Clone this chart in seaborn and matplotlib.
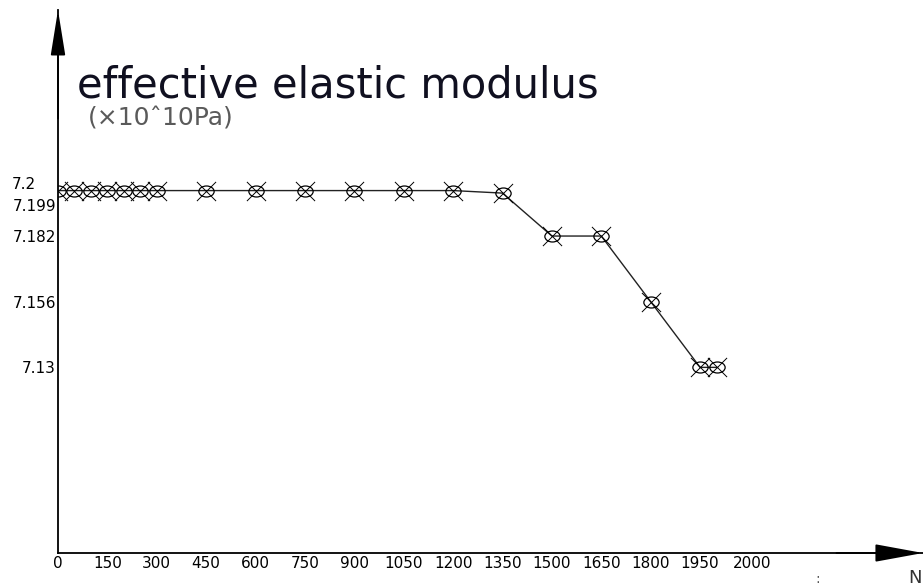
import matplotlib
matplotlib.use("Agg")
import matplotlib.pyplot as plt
import matplotlib.path as mpath
import matplotlib.transforms as mtransforms
import pandas as pd
import seaborn as sns

# data
n_values = [0, 50, 100, 150, 200, 250, 300, 450, 600, 750, 900, 1050,
            1200, 1350, 1500, 1650, 1800, 1950, 2000]
modulus = [7.2, 7.2, 7.2, 7.2, 7.2, 7.2, 7.2, 7.2, 7.2, 7.2, 7.2, 7.2,
           7.2, 7.199, 7.182, 7.182, 7.156, 7.13, 7.13]

x_ticks = [0, 150, 300, 450, 600, 750, 900, 1050, 1200, 1350, 1500,
           1650, 1800, 1950, 2000]
x_tick_labels = [str(v) for v in x_ticks]
y_ticks = [7.2, 7.199, 7.182, 7.156, 7.13]
y_tick_labels = ["7.2", "7.199", "7.182", "7.156", "7.13"]

df = pd.DataFrame({"N": n_values, "E": modulus})

sns.set_style("white")
plt.rcParams["font.family"] = ["DejaVu Sans"]

fig = plt.figure(figsize=(9.23, 5.87), dpi=100)
ax = fig.add_axes([58 / 923, 34 / 587, 1 - 58 / 923, (553 - 10) / 587])

# flattened circle marker
ellipse = mpath.Path.unit_circle().transformed(mtransforms.Affine2D().scale(1, 0.72))

sns.lineplot(data=df, x="N", y="E", ax=ax, color="#222222", linewidth=1,
             marker=ellipse, markersize=11, markerfacecolor="none",
             markeredgecolor="black", markeredgewidth=0.9)
sns.scatterplot(data=df, x="N", y="E", ax=ax, marker="x", s=190,
                color="black", linewidth=0.7, zorder=5)

ax.set_xlim(0, 2627)
ax.set_ylim(7.0565, 7.2715)
ax.set_xlabel("")
ax.set_ylabel("")

ax.set_xticks(x_ticks)
ax.set_xticklabels(x_tick_labels)
ax.set_yticks(y_ticks)
ax.set_yticklabels(y_tick_labels)
ax.tick_params(direction="in", length=5, width=1, labelsize=11, pad=2,
               colors="black")
ax.tick_params(axis="y", pad=1.5)

for s in ["top", "right"]:
    ax.spines[s].set_visible(False)
for s in ["left", "bottom"]:
    ax.spines[s].set_linewidth(1.3)
    ax.spines[s].set_color("black")

# nudge some tick labels like in the original drawing
def shift(lbl, dx, dy):
    lbl.set_transform(lbl.get_transform() +
                      mtransforms.ScaledTranslation(dx / 100, dy / 100, fig.dpi_scale_trans))

ylabels = ax.get_yticklabels()
shift(ylabels[0], -20, 8)
shift(ylabels[1], 0, -12)
xlabels = ax.get_xticklabels()
shift(xlabels[-1], 36, 0)

# axis arrows
ax.annotate("", xy=(0, 1), xycoords="axes fraction", xytext=(0, 0.8),
            arrowprops=dict(arrowstyle="-|>,head_length=2.8,head_width=0.45",
                            color="black", lw=1.3, shrinkA=0, shrinkB=0),
            annotation_clip=False)
ax.annotate("", xy=(1, 0), xycoords="axes fraction", xytext=(0.9, 0),
            arrowprops=dict(arrowstyle="-|>,head_length=3.0,head_width=0.55",
                            color="black", lw=1.3, shrinkA=0, shrinkB=0),
            annotation_clip=False)

fig.text(77 / 923, 1 - 98 / 587, "effective elastic modulus", fontsize=30,
         family="DejaVu Sans", color="#101020", va="baseline")
fig.text(88 / 923, 1 - 126 / 587, "(×10ˆ10Pa)", fontsize=18,
         color="#5a5a5a", va="baseline")
fig.text(908 / 923, 4 / 587, "N", fontsize=13, color="#333333", va="baseline")
fig.text(815 / 923, 4 / 587, ":", fontsize=10, color="#555555", va="baseline")

fig.savefig("out.png", dpi=100)
